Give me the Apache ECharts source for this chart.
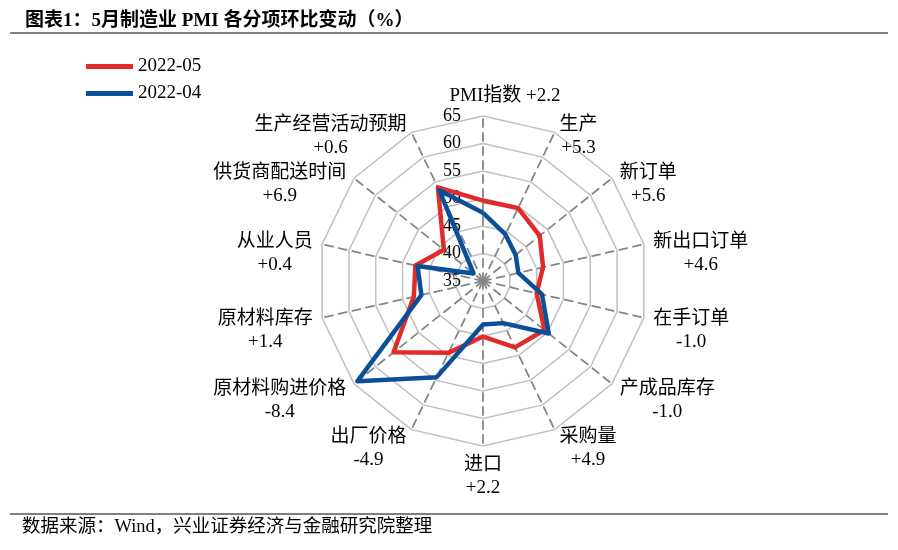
<!DOCTYPE html>
<html><head><meta charset="utf-8">
<script src="https://cdn.jsdelivr.net/npm/echarts@6/dist/echarts.min.js"></script>
<style>html,body{margin:0;padding:0;background:#fff}#c{width:898px;height:550px}</style>
</head><body><div id="c"></div>
<script>
// Indicators listed clockwise from the top
const indicators = ['PMI指数','生产','新订单','新出口订单','在手订单','产成品库存','采购量','进口','出厂价格','原材料购进价格','原材料库存','从业人员','供货商配送时间','生产经营活动预期'];
const changes = ['+2.2','+5.3','+5.6','+4.6','-1.0','-1.0','+4.9','+2.2','-4.9','-8.4','+1.4','+0.4','+6.9','+0.6'];
const may2022 = [49.6,49.7,48.2,46.2,45.0,49.3,48.4,45.1,49.5,55.8,47.9,47.6,44.1,53.9];
const apr2022 = [47.4,44.4,42.6,41.6,46.0,50.3,43.5,42.9,54.4,64.2,46.5,47.2,37.2,53.3];
const seriesNames = ['2022-05','2022-04'];
const axisMin = 35, axisMax = 65, axisStep = 5;

const FONT = '"Liberation Serif","Noto Sans CJK SC",serif';
const NAME_SIZE = 19, LINE_H = 23;
const ctx = document.createElement('canvas').getContext('2d');
ctx.font = NAME_SIZE + 'px ' + FONT;
const rich = {top: {fontSize: NAME_SIZE, fontFamily: FONT, color: '#000', lineHeight: LINE_H}};
indicators.forEach((n, i) => {
  const w = Math.ceil(Math.max(ctx.measureText(n).width, ctx.measureText(changes[i]).width)) + 2;
  rich['w' + i] = {width: w, align: 'center', fontSize: NAME_SIZE, lineHeight: LINE_H, fontFamily: FONT, color: '#000'};
});

// ECharts lays radar axes counter-clockwise; reverse order (keeping the first on top) to run clockwise
const n = indicators.length;
const order = [0].concat(Array.from({length: n - 1}, (_, k) => n - 1 - k));

function nameStyle(i) {
  if (i === 0) return {align: 'center', verticalAlign: 'bottom', padding: [0, 0, 0, 44]};
  if (i === n / 2) return {align: 'center', verticalAlign: 'top'};
  return {align: i < n / 2 ? 'left' : 'right', verticalAlign: 'middle', padding: [LINE_H, 0, 0, 0]};
}

const chart = echarts.init(document.getElementById('c'));
chart.setOption({
  animation: false,
  title: {
    text: '图表1：5月制造业 PMI 各分项环比变动（%）',
    left: 20, top: 7,
    textStyle: {fontSize: 19, fontWeight: 'bold', color: '#000', fontFamily: FONT}
  },
  legend: {
    orient: 'vertical', left: 81, top: 52,
    itemWidth: 47, itemHeight: 5, itemGap: 8,
    icon: 'rect',
    textStyle: {fontSize: 19, color: '#000', fontFamily: FONT},
    data: seriesNames
  },
  graphic: [
    {type: 'line', shape: {x1: 10, y1: 33, x2: 888, y2: 33}, style: {stroke: '#000', lineWidth: 1}},
    {type: 'line', shape: {x1: 10, y1: 514, x2: 888, y2: 514}, style: {stroke: '#000', lineWidth: 1}},
    {type: 'text', left: 22, top: 518, style: {text: '数据来源：Wind，兴业证券经济与金融研究院整理', fontSize: 18.5, fill: '#000', fontFamily: FONT}}
  ],
  radar: {
    center: [483, 281],
    radius: 165,
    startAngle: 90,
    shape: 'polygon',
    splitNumber: (axisMax - axisMin) / axisStep,
    nameGap: 8,
    indicator: order.map(i => ({
      name: indicators[i], min: axisMin, max: axisMax,
      axisLabel: {show: i === 0},
      nameTextStyle: nameStyle(i)
    })),
    axisName: {
      formatter: (name) => {
        const i = indicators.indexOf(name);
        if (i === 0) return '{top|' + name + ' ' + changes[i] + '}';
        return '{w' + i + '|' + name + '}\n{w' + i + '|' + changes[i] + '}';
      },
      rich: rich
    },
    axisLabel: {
      show: true, color: '#000', fontSize: 18, fontFamily: FONT, margin: 22
    },
    axisLine: {lineStyle: {color: '#858585', width: 1.8, type: [8, 6]}},
    axisTick: {show: false},
    splitLine: {lineStyle: {color: '#bfbfbf', width: 1.5}},
    splitArea: {show: false}
  },
  series: [{
    type: 'radar',
    symbol: 'none',
    data: [
      {name: seriesNames[0], value: order.map(i => may2022[i]), lineStyle: {color: '#e02b2b', width: 4.5}, itemStyle: {color: '#e02b2b'}},
      {name: seriesNames[1], value: order.map(i => apr2022[i]), lineStyle: {color: '#0b4f9a', width: 4.5}, itemStyle: {color: '#0b4f9a'}}
    ]
  }]
});
</script></body></html>
